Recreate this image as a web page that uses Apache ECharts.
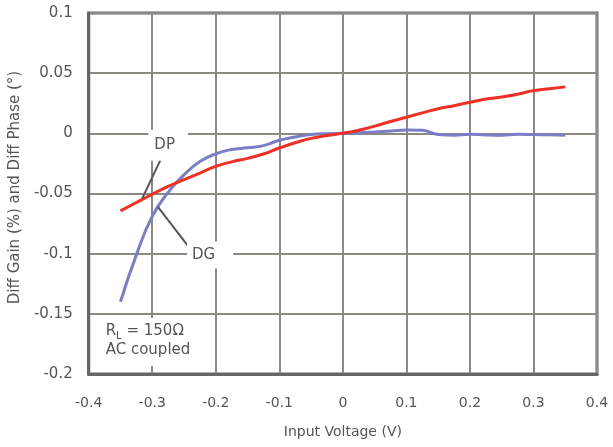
<!DOCTYPE html>
<html>
<head>
<meta charset="utf-8">
<script src="https://cdn.jsdelivr.net/npm/echarts@6/dist/echarts.min.js"></script>
<style>
html,body{margin:0;padding:0;background:#fff;}
#chart{width:613px;height:447px;}
</style>
</head>
<body>
<div id="chart"></div>
<script>
// Input voltage (V)
const inputVoltage = [-0.35,-0.325,-0.3,-0.275,-0.25,-0.225,-0.2,-0.175,-0.15,-0.125,-0.1,-0.075,-0.05,-0.025,0,0.025,0.05,0.075,0.1,0.125,0.15,0.175,0.2,0.225,0.25,0.275,0.3,0.325,0.35];
// Diff Phase (deg) - DP (red)
const diffPhase = [-0.0644,-0.0575,-0.0506,-0.044,-0.0385,-0.033,-0.0275,-0.0237,-0.0208,-0.0172,-0.0122,-0.0078,-0.0042,-0.0018,0,0.0025,0.006,0.0098,0.0134,0.017,0.0205,0.023,0.0258,0.0285,0.0302,0.0325,0.0355,0.037,0.0386];
// Diff Gain (%) - DG (blue)
const diffGain = [-0.140,-0.101,-0.069,-0.049,-0.0345,-0.0235,-0.017,-0.0135,-0.012,-0.0102,-0.0058,-0.003,-0.001,-0.0003,0,0.0005,0.0012,0.002,0.0028,0.0025,-0.001,-0.0015,-0.0008,-0.0013,-0.0015,-0.0008,-0.001,-0.0012,-0.0015];

const xTicks = {min:-0.4, max:0.4, interval:0.1};
const yTicks = {min:-0.2, max:0.1, interval:0.05};

const FONT = 'DejaVu Sans';
const TXT = '#555555';

const chart = echarts.init(document.getElementById('chart'), null, {renderer:'canvas'});
chart.setOption({
  animation:false,
  backgroundColor:'#ffffff',
  grid:{left:88,right:16,top:13,bottom:73,show:true,borderColor:'#666666',borderWidth:3,backgroundColor:'transparent'},
  xAxis:{
    type:'value',min:xTicks.min,max:xTicks.max,interval:xTicks.interval,
    name:'Input Voltage (V)',nameLocation:'middle',nameGap:51,
    nameTextStyle:{color:TXT,fontFamily:FONT,fontSize:14},
    axisLine:{show:true,onZero:false,lineStyle:{color:'#666666',width:3}},
    axisTick:{show:false},
    axisLabel:{color:TXT,fontFamily:FONT,fontSize:14,margin:22},
    splitLine:{show:true,lineStyle:{color:'#8a8a82',width:2}}
  },
  yAxis:{
    type:'value',min:yTicks.min,max:yTicks.max,interval:yTicks.interval,
    name:'Diff Gain (%) and Diff Phase (°)',nameLocation:'middle',nameGap:60,
    nameTextStyle:{color:TXT,fontFamily:FONT,fontSize:15,padding:[0,0,0,12]},
    axisLine:{show:true,onZero:false,lineStyle:{color:'#666666',width:3}},
    axisTick:{show:false},
    axisLabel:{color:TXT,fontFamily:FONT,fontSize:15,margin:16},
    splitLine:{show:true,lineStyle:{color:'#8a8a82',width:2}}
  },
  series:[
    {
      name:'DG',type:'line',smooth:true,showSymbol:false,
      data:inputVoltage.map((v,i)=>[v,diffGain[i]]),
      lineStyle:{color:'#7b7ec4',width:3},itemStyle:{color:'#7b7ec4'},
      z:3,
      markLine:{
        silent:true,symbol:['none','none'],
        lineStyle:{color:'#555555',width:2,type:'solid'},
        label:{show:false},
        data:[[{coord:[-0.2911,-0.0611]},{coord:[-0.2408,-0.0956]}]]
      },
      markPoint:{
        silent:true,symbol:'rect',symbolSize:1,itemStyle:{color:'rgba(0,0,0,0)'},
        data:[
          {coord:[-0.209,-0.1012],label:{show:true,position:'inside',formatter:'DG',color:TXT,fontFamily:FONT,fontSize:15,backgroundColor:'#ffffff',padding:[6,18,6,5]}}
        ]
      }
    },
    {
      name:'DP',type:'line',smooth:true,showSymbol:false,
      data:inputVoltage.map((v,i)=>[v,diffPhase[i]]),
      lineStyle:{color:'#ee3124',width:3},itemStyle:{color:'#ee3124'},
      z:4,
      markLine:{
        silent:true,symbol:['none','none'],
        lineStyle:{color:'#555555',width:2,type:'solid'},
        label:{show:false},
        data:[[{coord:[-0.2822,-0.0166]},{coord:[-0.3157,-0.0541]}]]
      },
      markPoint:{
        silent:true,symbol:'rect',symbolSize:1,itemStyle:{color:'rgba(0,0,0,0)'},
        data:[
          {coord:[-0.275,-0.00995],label:{show:true,position:'inside',formatter:'DP',color:TXT,fontFamily:FONT,fontSize:15,backgroundColor:'#ffffff',padding:[8,13,8,6]}},
          {coord:[-0.378,-0.1534],label:{show:true,position:'inside',align:'left',verticalAlign:'top',
            formatter:'{a|R}{s|L}{a| = 150Ω}\n{a|AC coupled}',
            backgroundColor:'#ffffff',padding:[4,10,6,3],
            rich:{
              a:{color:TXT,fontFamily:FONT,fontSize:15,lineHeight:19},
              s:{color:TXT,fontFamily:FONT,fontSize:10,lineHeight:19,verticalAlign:'bottom',padding:[6,0,0,0]}
            }}}
        ]
      }
    }
  ]
});
</script>
</body>
</html>
